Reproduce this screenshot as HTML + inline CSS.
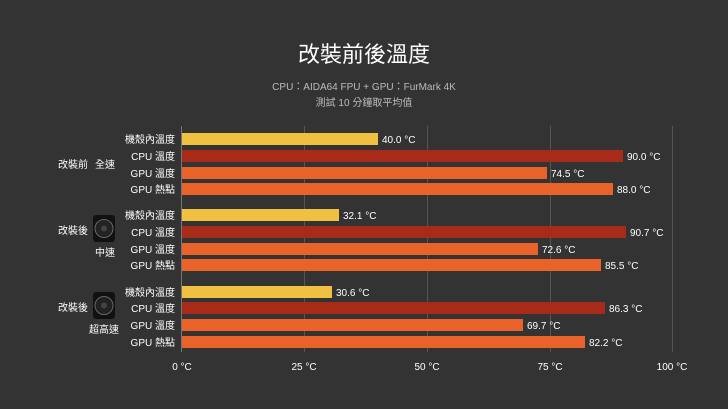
<!DOCTYPE html>
<html><head><meta charset="utf-8"><style>
body{margin:0;background:#333;}
svg{display:block}
text{font-family:"Liberation Sans","Noto Sans CJK TC",sans-serif;}
</style></head><body>
<svg width="728" height="409" xmlns="http://www.w3.org/2000/svg">
<rect width="728" height="409" fill="#333"/>
<text x="364" y="62" fill="#fff" font-size="22" text-anchor="middle">改裝前後溫度</text>
<text x="364" y="90" fill="#bbb" font-size="10" text-anchor="middle">CPU：AIDA64 FPU + GPU：FurMark 4K</text>
<text x="364" y="106" fill="#bbb" font-size="10" text-anchor="middle">測試 10 分鐘取平均值</text>
<g stroke="#555" stroke-width="1">
<line x1="304.5" y1="126" x2="304.5" y2="352"/>
<line x1="427.5" y1="126" x2="427.5" y2="352"/>
<line x1="550.5" y1="126" x2="550.5" y2="352"/>
<line x1="672.5" y1="126" x2="672.5" y2="352"/>
</g>
<line x1="181.5" y1="126" x2="181.5" y2="352" stroke="#777"/>
<g font-size="10" fill="#fff" text-anchor="middle">
<text x="182" y="370">0 °C</text><text x="304" y="370">25 °C</text><text x="427" y="370">50 °C</text><text x="550" y="370">75 °C</text><text x="672" y="370">100 °C</text>
</g>
<g id="bars" font-size="10" fill="#fff">
<!-- group1 -->
<rect x="182" y="133" width="196" height="12" fill="#f0c040"/><text x="382" y="143">40.0 °C</text>
<rect x="182" y="150" width="441" height="12" fill="#a82a18"/><text x="627" y="160">90.0 °C</text>
<rect x="182" y="167" width="365" height="12" fill="#e8622a"/><text x="551" y="177">74.5 °C</text>
<rect x="182" y="183" width="431" height="12" fill="#e8622a"/><text x="617" y="193">88.0 °C</text>
<!-- group2 -->
<rect x="182" y="209" width="157" height="12" fill="#f0c040"/><text x="343" y="219">32.1 °C</text>
<rect x="182" y="226" width="444" height="12" fill="#a82a18"/><text x="630" y="236">90.7 °C</text>
<rect x="182" y="243" width="356" height="12" fill="#e8622a"/><text x="542" y="253">72.6 °C</text>
<rect x="182" y="259" width="419" height="12" fill="#e8622a"/><text x="605" y="269">85.5 °C</text>
<!-- group3 -->
<rect x="182" y="286" width="150" height="12" fill="#f0c040"/><text x="336" y="296">30.6 °C</text>
<rect x="182" y="302" width="423" height="12" fill="#a82a18"/><text x="609" y="312">86.3 °C</text>
<rect x="182" y="319" width="341" height="12" fill="#e8622a"/><text x="527" y="329">69.7 °C</text>
<rect x="182" y="336" width="403" height="12" fill="#e8622a"/><text x="589" y="346">82.2 °C</text>
</g>
<g font-size="10" fill="#fff" text-anchor="end">
<text x="175" y="143">機殼內溫度</text><text x="175" y="160">CPU 溫度</text><text x="175" y="177">GPU 溫度</text><text x="175" y="193">GPU 熱點</text>
<text x="175" y="219">機殼內溫度</text><text x="175" y="236">CPU 溫度</text><text x="175" y="253">GPU 溫度</text><text x="175" y="269">GPU 熱點</text>
<text x="175" y="296">機殼內溫度</text><text x="175" y="312">CPU 溫度</text><text x="175" y="329">GPU 溫度</text><text x="175" y="346">GPU 熱點</text>
</g>
<g font-size="10" fill="#fff">
<text x="58" y="168">改裝前</text><text x="95" y="168">全速</text>
<text x="58" y="234">改裝後</text><text x="95" y="256">中速</text>
<text x="58" y="311">改裝後</text><text x="89" y="333">超高速</text>
</g>
<g>
<rect x="93" y="215" width="22" height="27" rx="3" fill="#111"/>
<circle cx="104" cy="228.5" r="9" fill="#222" stroke="#666" stroke-width="1"/>
<circle cx="104" cy="228.5" r="3" fill="#444"/>
<rect x="93" y="292" width="22" height="27" rx="3" fill="#111"/>
<circle cx="104" cy="305.5" r="9" fill="#222" stroke="#666" stroke-width="1"/>
<circle cx="104" cy="305.5" r="3" fill="#444"/>
</g>
</svg>
</body></html>
